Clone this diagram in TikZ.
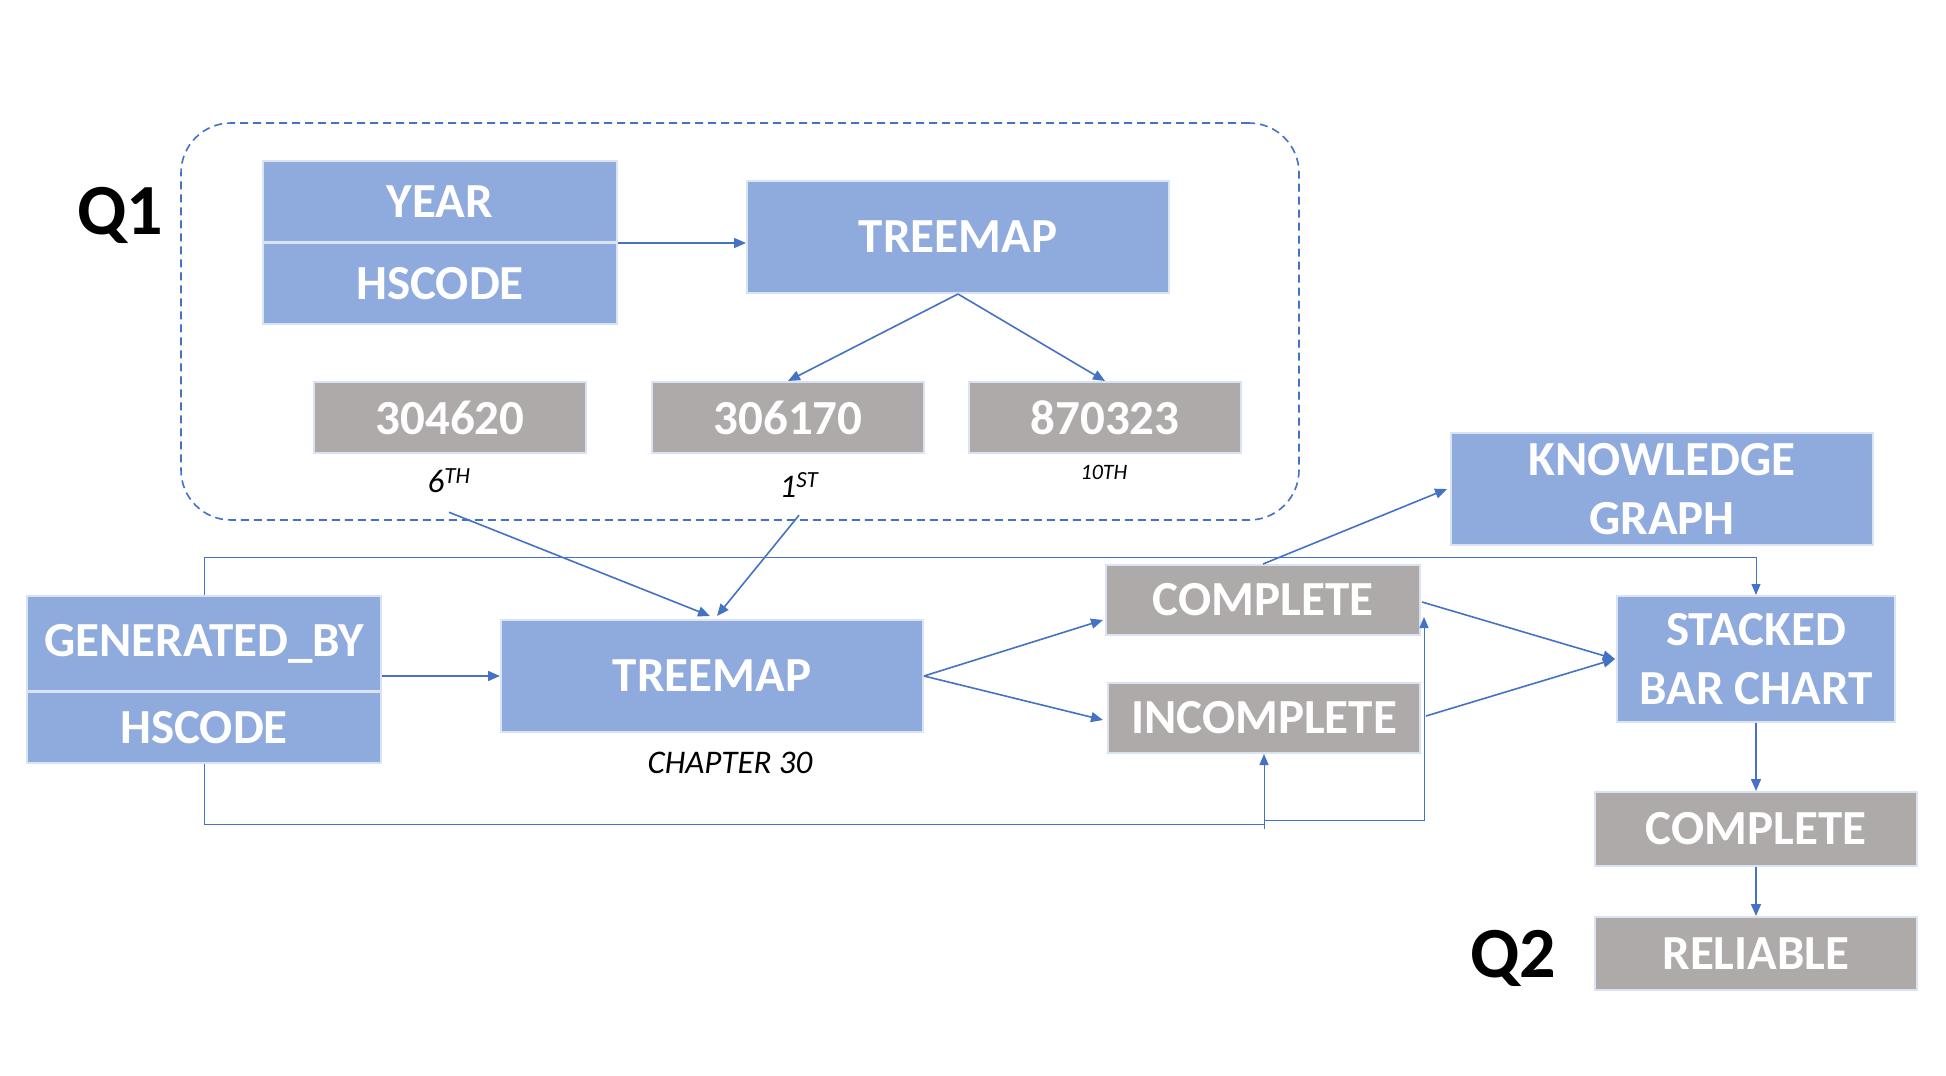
\documentclass[tikz,border=0pt]{standalone}
\usepackage{fontspec}
\setmainfont{Carlito}
\usetikzlibrary{arrows.meta,calc}
\definecolor{bfill}{HTML}{8FAADC}
\definecolor{gfill}{HTML}{AEAAAA}
\definecolor{bord}{HTML}{DAE3F3}
\definecolor{lc}{HTML}{4472C4}
\begin{document}
\begin{tikzpicture}[x=1pt,y=-1pt,
  box/.style={draw=bord, line width=2pt, text=white, font=\fontsize{49}{59}\selectfont\bfseries, inner sep=0pt, align=center},
  bbox/.style={box, fill=bfill},
  gbox/.style={box, fill=gfill},
  qlab/.style={font=\fontsize{72}{72}\selectfont\bfseries, text=black, inner sep=0pt},
  ilab/.style={font=\fontsize{33}{33}\selectfont\itshape, text=black, inner sep=0pt},
  arr/.style={draw=lc, line width=1.6pt, -{Triangle[length=12pt,width=10pt]}},
  fb/.style={draw=lc, line width=1pt},
  fbarr/.style={fb, -{Triangle[length=11pt,width=9pt]}}
]
\useasboundingbox (0,0) rectangle (1946,1076);
\fill[white] (0,0) rectangle (1946,1076);

% dashed group
\node[draw=lc, line width=1.6pt, dash pattern=on 8pt off 5pt, rounded corners=50pt,
      minimum width=1118pt, minimum height=397pt, inner sep=0pt] (q1box) at (740,321.5) {};

\node[qlab] (q1) at (120,215) {Q1};
\node[qlab] (q2) at (1513,958) {Q2};

% Q1 nodes
\node[bbox, minimum width=354pt, minimum height=81pt] (year) at (440,201.5) {YEAR};
\node[bbox, minimum width=354pt, minimum height=81pt] (hs1) at (440,283.5) {HSCODE};
\node[bbox, minimum width=422pt, minimum height=112pt] (tm1) at (958,237) {TREEMAP};
\node[gbox, minimum width=272pt, minimum height=71pt] (n304620) at (450,417.5) {304620};
\node[gbox, minimum width=272pt, minimum height=71pt] (n306170) at (788,417.5) {306170};
\node[gbox, minimum width=272pt, minimum height=71pt] (n870323) at (1105,417.5) {870323};
\node[ilab] (l6) at (449,481) {6\textsuperscript{TH}};
\node[ilab] (l1) at (799,485) {1\textsuperscript{ST}};
\node[ilab, font=\fontsize{22}{22}\selectfont\itshape] (l10) at (1104,472) {10TH};

% main flow
\node[bbox, minimum width=354pt, minimum height=95pt] (gen) at (204,643.5) {GENERATED\_BY};
\node[bbox, minimum width=354pt, minimum height=71pt] (hs2) at (204,727.5) {HSCODE};
\node[bbox, minimum width=422pt, minimum height=112pt] (tm2) at (712,676) {TREEMAP};
\node[ilab] (ch30) at (730,763) {CHAPTER 30};
\node[gbox, minimum width=314pt, minimum height=70pt] (comp1) at (1263,600) {COMPLETE};
\node[gbox, minimum width=312pt, minimum height=70pt] (incomp) at (1264,718) {INCOMPLETE};
\node[bbox, minimum width=422pt, minimum height=112pt] (kg) at (1662,489) {KNOWLEDGE\\GRAPH};
\node[bbox, minimum width=278pt, minimum height=126pt] (sbc) at (1756,659) {STACKED\\BAR CHART};
\node[gbox, minimum width=322pt, minimum height=74pt] (comp2) at (1756,829) {COMPLETE};
\node[gbox, minimum width=322pt, minimum height=73pt] (rel) at (1756,953.5) {RELIABLE};

% connectors
\draw[arr] (year.south east) -- (year.south east -| tm1.west);
\draw[arr] (tm1.south) -- (n306170.north);
\draw[arr] (tm1.south) -- (n870323.north);
\draw[arr] ([yshift=-19pt]l6.south) -- ([xshift=-2pt,yshift=3pt]tm2.north);
\draw[arr] ([yshift=-18pt]l1.south) -- ([xshift=5pt,yshift=3pt]tm2.north);
\draw[arr] (gen.east |- tm2.west) -- (tm2.west);
\draw[arr] (tm2.east) -- ([xshift=-2pt,yshift=-20pt]comp1.west);
\draw[arr] (tm2.east) -- ([xshift=-4pt,yshift=-2pt]incomp.west);
\draw[arr] (comp1.north) -- ([xshift=-3pt]kg.west);
\draw[arr] ([xshift=1pt,yshift=-2pt]comp1.east) -- ([xshift=-1pt]sbc.west);
\draw[arr] ([xshift=5pt,yshift=2pt]incomp.east) -- ([xshift=-1pt]sbc.west);
\draw[arr] (sbc.south) -- (comp2.north);
\draw[arr] (comp2.south) -- (rel.north);

% feedback lines
\draw[fbarr] (gen.north) -- ++(0,-38) -| (sbc.north);
\draw[fbarr] (hs2.south) -- ++(0,60) -| (incomp.south);
\coordinate (fbend) at (1264,829);
\draw[fbarr] (fbend) -- ++(0,-9) -| ([xshift=3pt,yshift=-17pt]comp1.east);
\end{tikzpicture}
\end{document}
